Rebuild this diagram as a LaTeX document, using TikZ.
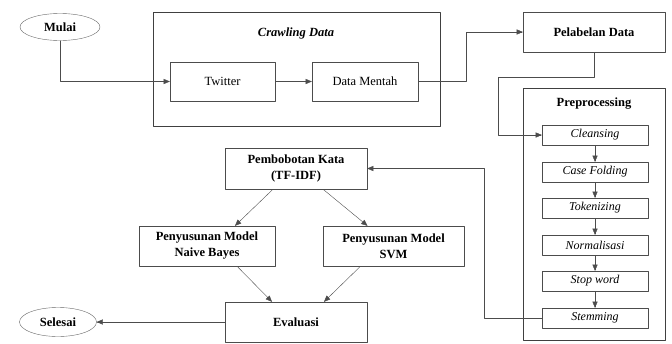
\documentclass[tikz,border=0pt]{standalone}
\usepackage{fontspec}
\setmainfont{Liberation Serif}
\newfontfamily\lserif{Liberation Serif}
\usetikzlibrary{arrows}
\usetikzlibrary{shapes.geometric}

\begin{document}
\begin{tikzpicture}[line cap=round,line join=round,>=triangle 45,x=1pt,y=-1pt,
  every node/.style={font=\lserif\fontsize{12.5}{16}\selectfont},
  box/.style={draw=black!70,rectangle,inner sep=0pt,align=center},
  group/.style={draw=black!75,rectangle,inner sep=0pt},
  stepbox/.style={box,minimum width=106,minimum height=20,font=\lserif\fontsize{12}{14}\selectfont\itshape},
  terminal/.style={draw=black!60,ellipse,inner sep=0pt,font=\lserif\fontsize{12.5}{16}\selectfont\bfseries},
  conn/.style={->,draw=black!70}]
\useasboundingbox (0,0) rectangle (672,343);
% start
\node[terminal,minimum width=80,minimum height=27] (mulai) at (60,27) {Mulai};
% crawling
\node[group,minimum width=287,minimum height=114] (crawl) at (296.5,69) {};
\node[font=\lserif\fontsize{12.5}{16}\selectfont\bfseries\itshape] (crawltitle) at (296,33) {Crawling Data};
\node[box,minimum width=105,minimum height=39] (twitter) at (222.5,81.5) {Twitter};
\node[box,minimum width=106,minimum height=39] (mentah) at (365,81.5) {Data Mentah};
% labelling
\node[box,minimum width=142,minimum height=40,font=\lserif\fontsize{12.5}{16}\selectfont\bfseries] (label) at (594,32) {Pelabelan Data};
% preprocessing
\node[group,minimum width=142,minimum height=252] (prep) at (594,214) {};
\node[font=\lserif\fontsize{12.5}{16}\selectfont\bfseries] (preptitle) at (594,104) {Preprocessing};
\node[stepbox] (clean) at (595,135) {Cleansing};
\node[stepbox] (fold) at (595,172) {Case Folding};
\node[stepbox] (token) at (595,208) {Tokenizing};
\node[stepbox] (norm) at (595,245) {Normalisasi};
\node[stepbox] (stop) at (595,281) {Stop word};
\node[stepbox] (stem) at (595,318) {Stemming};
% weighting and models
\node[box,minimum width=142,minimum height=41,font=\lserif\fontsize{12.5}{16}\selectfont\bfseries] (tfidf) at (296,168.5) {Pembobotan Kata\\(TF-IDF)};
\node[box,minimum width=136,minimum height=40,font=\lserif\fontsize{12.5}{16}\selectfont\bfseries] (nb) at (207,246) {Penyusunan Model\\Naive Bayes};
\node[box,minimum width=141,minimum height=40,font=\lserif\fontsize{12.5}{16}\selectfont\bfseries] (svm) at (393.5,246) {Penyusunan Model\\SVM};
\node[box,minimum width=142,minimum height=40,font=\lserif\fontsize{12.5}{16}\selectfont\bfseries] (eval) at (296,322) {Evaluasi};
\node[terminal,minimum width=77,minimum height=29] (selesai) at (58,322) {Selesai};

\coordinate (bend1) at (498,77);
\draw[conn] (mulai.south) |- (twitter.west);
\draw[conn] (twitter.east) -- (mentah.west);
\draw[conn] (mentah.east) -- ++(48,0) |- (label.west);
\draw[conn] (label.south) |- (bend1) |- (clean.west);
\draw[conn] (clean) -- (fold);
\draw[conn] (fold) -- (token);
\draw[conn] (token) -- (norm);
\draw[conn] (norm) -- (stop);
\draw[conn] (stop) -- (stem);
\draw[conn] (stem.west) -- ++(-58,0) |- (tfidf.east);
\draw[conn] ([xshift=-23]tfidf.south) -- ([xshift=28]nb.north);
\draw[conn] ([xshift=27]tfidf.south) -- ([xshift=-26]svm.north);
\draw[conn] ([xshift=30]nb.south) -- ([xshift=-24]eval.north);
\draw[conn] ([xshift=-33]svm.south) -- ([xshift=28]eval.north);
\draw[conn] (eval.west) -- (selesai.east);
\end{tikzpicture}
\end{document}
